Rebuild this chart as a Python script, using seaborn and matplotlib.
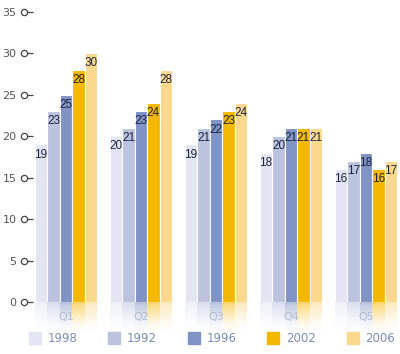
import numpy as np
import pandas as pd
import matplotlib
matplotlib.use('Agg')
import matplotlib.pyplot as plt
import matplotlib.transforms as mtransforms
from matplotlib.lines import Line2D
import seaborn as sns

quarters = ['Q1', 'Q2', 'Q3', 'Q4', 'Q5']
years = ['1998', '1992', '1996', '2002', '2006']
v1998 = [19, 20, 19, 18, 16]
v1992 = [23, 21, 21, 20, 17]
v1996 = [25, 23, 22, 21, 18]
v2002 = [28, 24, 23, 21, 16]
v2006 = [30, 28, 24, 21, 17]
colors = ['#e3e5f2', '#bcc3df', '#7f93c4', '#f5b800', '#fbd98c']

series = [v1998, v1992, v1996, v2002, v2006]
rows = []
for yr, vals in zip(years, series):
    for q, v in zip(quarters, vals):
        rows.append({'quarter': q, 'year': yr, 'value': v})
df = pd.DataFrame(rows)

sns.set_style('white')
plt.rcParams['font.family'] = ['DejaVu Sans']

fig = plt.figure(figsize=(4.0, 3.54), dpi=100)
ax = fig.add_axes([0.0825, 0.054, 0.915, 0.918])

sns.barplot(data=df, x='quarter', y='value', hue='year', hue_order=years,
            palette=colors, width=0.83, edgecolor='white', linewidth=0.8,
            saturation=1, legend=False, ax=ax)

ax.set_ylim(-3.96, 35.2)
ax.set_xlim(-0.44, 4.44)

# reflection below zero, fading out
n_steps = 14
depth = 3.6
for cont, col in zip(ax.containers, colors):
    for bar in cont.patches:
        x0, w = bar.get_x(), bar.get_width()
        for k in range(n_steps):
            a = 0.55 * (1 - k / n_steps) ** 1.5
            ax.bar(x0, depth / n_steps, bottom=-(k + 1) * depth / n_steps,
                   width=w, align='edge', color=col, alpha=a, linewidth=0)

# value labels just inside the top of each bar
for cont in ax.containers[:5]:
    for bar in cont.patches:
        h = bar.get_height()
        ax.annotate(f'{h:.0f}', (bar.get_x() + bar.get_width() / 2, h),
                    xytext=(0, -3), textcoords='offset points',
                    ha='center', va='top', fontsize=8.5, color='#1c2540',
                    family=['Liberation Sans', 'DejaVu Sans'])

# category labels inside the reflection
for i, q in enumerate(quarters):
    ax.text(i, -1.8, q, ha='center', va='center', fontsize=8, color='#b5bdd6')

for s in ax.spines.values():
    s.set_visible(False)
ax.set_xticks([])
ax.set_xlabel('')
ax.set_ylabel('')
yt = np.arange(0, 36, 5)
ax.set_yticks(yt)
ax.set_yticklabels([str(t) for t in yt], fontsize=8, color='#555555')
ax.tick_params(axis='y', left=True, length=4, width=0.9, color='#444444',
               pad=8, direction='out')

# circle markers on the tick marks
trans = mtransforms.blended_transform_factory(
    mtransforms.offset_copy(ax.transAxes, fig=fig, x=-9, y=0, units='dots'), ax.transData)
ax.plot(np.zeros(len(yt)), yt, 'o', ms=4.5, mfc='white', mec='#444444', mew=0.9,
        transform=trans, clip_on=False)

handles = [Line2D([], [], marker='s', ls='', ms=9, mfc=c, mec=c) for c in colors]
fig.legend(handles, years, loc='lower center', bbox_to_anchor=(0.53, -0.005), ncol=5,
           frameon=False, fontsize=8.5, handletextpad=0.6, columnspacing=2.6,
           labelcolor='#7d8cb8', handlelength=1.0)

fig.savefig('out.png', dpi=100)
